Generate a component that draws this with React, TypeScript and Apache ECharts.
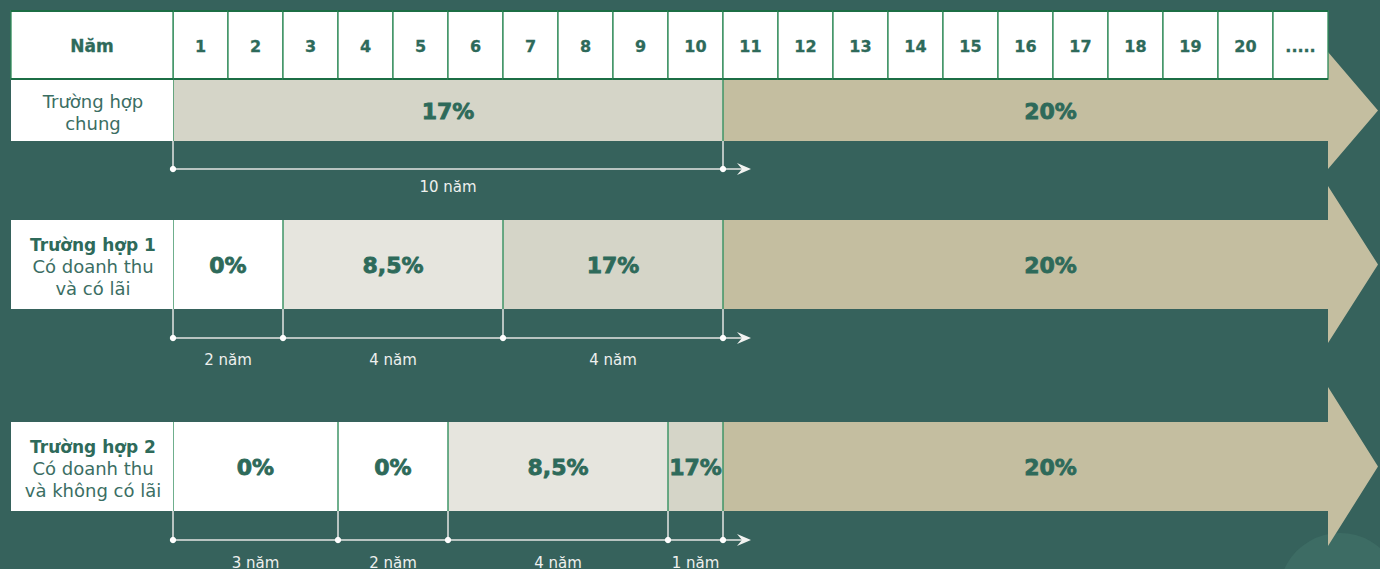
import { useEffect, useRef } from "react";
import * as echarts from "echarts";

// ---------- DATA ----------
const yearLabels = ["1", "2", "3", "4", "5", "6", "7", "8", "9", "10", "11", "12", "13", "14", "15", "16", "17", "18", "19", "20", "....."];
const headerTitle = "Năm";
const caseLabelLines = [
  ["Trường hợp", "chung"],
  ["Trường hợp 1", "Có doanh thu", "và có lãi"],
  ["Trường hợp 2", "Có doanh thu", "và không có lãi"],
];
const caseBoldFirst = [false, true, true];
const generalYears = [10];
const generalRates = ["17%"];
const case1Years = [2, 4, 4];
const case1Rates = ["0%", "8,5%", "17%"];
const case2Years = [3, 2, 4, 1];
const case2Rates = ["0%", "0%", "8,5%", "17%"];
const finalRate = "20%";
const durationUnit = "năm";

// ---------- STYLE / LAYOUT ----------
const W = 1380;
const H = 569;
const BG = "#36625C";
const TEXT = "#2E6A5A";
const LABEL_TEXT = "#3B6E63";
const HEADER_TOP = 11;
const HEADER_BOTTOM = 79;
const LABEL_LEFT = 11;
const HEAD_LEN = 50;
const ROWS = [
  { top: 80, bottom: 141, headExt: 28, lineY: 169, textY: 187 },
  { top: 220, bottom: 309, headExt: 34, lineY: 338, textY: 360 },
  { top: 422, bottom: 511, headExt: 35, lineY: 540, textY: 563 },
];
const rateColor: Record<string, string> = {
  "0%": "#FFFFFF",
  "8,5%": "#E6E5DE",
  "17%": "#D5D5C8",
  "20%": "#C4BEA0",
};
const BOLD_FONT = "DejaVu Sans";
const REG_FONT = "DejaVu Sans";

const cases = [
  { years: generalYears, rates: generalRates },
  { years: case1Years, rates: case1Rates },
  { years: case2Years, rates: case2Rates },
];

type Seg = { row: number; start: number; end: number; rate: string; final: boolean; lastTimed: boolean };

function buildSegments(): Seg[][] {
  return cases.map((c, row) => {
    const segs: Seg[] = [];
    let s = 0;
    c.years.forEach((y, i) => {
      segs.push({ row, start: s, end: s + y, rate: c.rates[i], final: false, lastTimed: i === c.years.length - 1 });
      s += y;
    });
    segs.push({ row, start: s, end: yearLabels.length, rate: finalRate, final: true, lastTimed: false });
    return segs;
  });
}

export default function App() {
  const ref = useRef<HTMLDivElement>(null);
  useEffect(() => {
    if (!ref.current) return;
    const chart = echarts.init(ref.current, undefined, { renderer: "svg" });
    const allSegs = buildSegments();

    const headerSeries = {
      type: "custom",
      z: 5,
      data: yearLabels.map((_, i) => [i, i + 1]),
      renderItem: (params: any, api: any) => {
        const x0 = api.coord([api.value(0), 0])[0];
        const x1 = api.coord([api.value(1), 0])[0];
        const label = yearLabels[params.dataIndex];
        return {
          type: "group",
          children: [
            { type: "rect", shape: { x: x0, y: HEADER_TOP, width: x1 - x0, height: HEADER_BOTTOM - HEADER_TOP }, style: { fill: "#FFFFFF", stroke: "#2E8A58", lineWidth: 1.3 } },
            { type: "line", shape: { x1: x0, y1: HEADER_TOP, x2: x1, y2: HEADER_TOP }, style: { stroke: "#1C6E45", lineWidth: 2 } },
            { type: "line", shape: { x1: x0, y1: HEADER_BOTTOM, x2: x1, y2: HEADER_BOTTOM }, style: { stroke: "#1C6E45", lineWidth: 2.2 } },
            { type: "text", style: { text: label, x: (x0 + x1) / 2, y: (HEADER_TOP + HEADER_BOTTOM) / 2 + 1, align: "center", verticalAlign: "middle", fill: TEXT, stroke: TEXT, lineWidth: 0.3, fontFamily: BOLD_FONT, fontWeight: "bold", fontSize: 16 } },
          ],
        };
      },
    };

    const labelSeries = {
      type: "custom",
      z: 5,
      data: [[0], [0], [0], [0]],
      renderItem: (params: any, api: any) => {
        const x1 = api.coord([api.value(0), 0])[0];
        const idx = params.dataIndex;
        const cx = (LABEL_LEFT + x1) / 2;
        if (idx === 0) {
          return {
            type: "group",
            children: [
              { type: "rect", shape: { x: LABEL_LEFT, y: HEADER_TOP, width: x1 - LABEL_LEFT, height: HEADER_BOTTOM - HEADER_TOP }, style: { fill: "#FFFFFF", stroke: "#2E8A58", lineWidth: 1.3 } },
              { type: "line", shape: { x1: LABEL_LEFT, y1: HEADER_TOP, x2: x1, y2: HEADER_TOP }, style: { stroke: "#1C6E45", lineWidth: 2 } },
              { type: "line", shape: { x1: LABEL_LEFT, y1: HEADER_BOTTOM, x2: x1, y2: HEADER_BOTTOM }, style: { stroke: "#1C6E45", lineWidth: 2.2 } },
              { type: "text", style: { text: headerTitle, x: cx, y: (HEADER_TOP + HEADER_BOTTOM) / 2 + 1, align: "center", verticalAlign: "middle", fill: TEXT, stroke: TEXT, lineWidth: 0.3, fontFamily: BOLD_FONT, fontWeight: "bold", fontSize: 17 } },
            ],
          };
        }
        const r = ROWS[idx - 1];
        const lines = caseLabelLines[idx - 1];
        const bold = caseBoldFirst[idx - 1];
        const cy = (r.top + r.bottom) / 2;
        const children: any[] = [
          { type: "rect", shape: { x: LABEL_LEFT, y: r.top, width: x1 - LABEL_LEFT, height: r.bottom - r.top }, style: { fill: "#FFFFFF" } },
        ];
        lines.forEach((t, i) => {
          const isBold = bold && i === 0;
          children.push({
            type: "text",
            style: {
              text: t, x: cx + 1, y: cy + 2 + (i - (lines.length - 1) / 2) * 22,
              align: "center", verticalAlign: "middle",
              fill: isBold ? TEXT : LABEL_TEXT,
              fontFamily: isBold ? BOLD_FONT : REG_FONT,
              fontWeight: isBold ? "bold" : "normal",
              fontSize: isBold ? 17 : 18,
            },
          });
        });
        return { type: "group", children };
      },
    };

    const segSeries = allSegs.map((segs) => ({
      type: "custom",
      z: 4,
      data: segs.map((s) => [s.start, s.end]),
      renderItem: (params: any, api: any) => {
        const s = segs[params.dataIndex];
        const r = ROWS[s.row];
        const x0 = api.coord([api.value(0), 0])[0];
        const x1 = api.coord([api.value(1), 0])[0];
        const cy = (r.top + r.bottom) / 2;
        const fill = rateColor[s.rate];
        const children: any[] = [];
        let tx = (x0 + x1) / 2;
        if (s.final) {
          children.push({
            type: "polygon",
            shape: { points: [[x0, r.top], [x1, r.top], [x1, r.top - r.headExt], [x1 + HEAD_LEN, cy], [x1, r.bottom + r.headExt], [x1, r.bottom], [x0, r.bottom]] },
            style: { fill },
          });
          tx = (x0 + x1 + HEAD_LEN) / 2;
        } else {
          children.push({ type: "rect", shape: { x: x0, y: r.top, width: x1 - x0, height: r.bottom - r.top }, style: { fill } });
        }
        children.push({ type: "line", shape: { x1: x0, y1: r.top, x2: x0, y2: r.bottom }, style: { stroke: "#3F9467", lineWidth: 1.5 } });
        children.push({
          type: "text",
          style: { text: s.rate, x: tx, y: cy + 1, align: "center", verticalAlign: "middle", fill: TEXT, stroke: TEXT, lineWidth: 0.8, fontFamily: BOLD_FONT, fontWeight: "bold", fontSize: 22 },
        });
        return { type: "group", children };
      },
    }));

    const timelineSeries = allSegs.map((segsAll) => {
      const segs = segsAll.filter((s) => !s.final);
      return {
        type: "custom",
        z: 4,
        data: segs.map((s) => [s.start, s.end]),
        renderItem: (params: any, api: any) => {
          const s = segs[params.dataIndex];
          const r = ROWS[s.row];
          const x0 = api.coord([api.value(0), 0])[0];
          const x1 = api.coord([api.value(1), 0])[0];
          const ly = r.lineY;
          const lineStyle = { stroke: "#E4E6E3", lineWidth: 1.5 };
          const children: any[] = [
            { type: "line", shape: { x1: x0, y1: r.bottom, x2: x0, y2: ly }, style: lineStyle },
            { type: "line", shape: { x1: x0, y1: ly, x2: x1, y2: ly }, style: lineStyle },
          ];
          if (s.lastTimed) {
            const tip = x1 + 28;
            children.push({ type: "line", shape: { x1: x1, y1: r.bottom, x2: x1, y2: ly }, style: lineStyle });
            children.push({ type: "line", shape: { x1: x1, y1: ly, x2: tip - 8, y2: ly }, style: lineStyle });
            children.push({ type: "polygon", shape: { points: [[tip, ly], [tip - 14, ly - 6], [tip - 9, ly], [tip - 14, ly + 6]] }, style: { fill: "#F2F3F1" } });
            children.push({ type: "circle", shape: { cx: x1, cy: ly, r: 3.2 }, style: { fill: "#FFFFFF" } });
          }
          children.push({ type: "circle", shape: { cx: x0, cy: ly, r: 3.2 }, style: { fill: "#FFFFFF" } });
          children.push({
            type: "text",
            style: { text: `${s.end - s.start} ${durationUnit}`, x: (x0 + x1) / 2, y: r.textY, align: "center", verticalAlign: "middle", fill: "#EEF0EE", fontFamily: REG_FONT, fontSize: 15 },
          });
          return { type: "group", children };
        },
      };
    });

    chart.setOption({
      animation: false,
      backgroundColor: BG,
      grid: { left: 173, right: W - 1273, top: 0, bottom: 0 },
      xAxis: { type: "value", min: 0, max: 20, show: false },
      yAxis: { type: "value", min: 0, max: H, inverse: true, show: false },
      graphic: [
        { type: "circle", z: -1, shape: { cx: 1340, cy: 594, r: 61 }, style: { fill: "#3D6C64" } },
      ],
      series: [headerSeries, labelSeries, ...segSeries, ...timelineSeries],
    });
    return () => chart.dispose();
  }, []);
  return <div ref={ref} style={{ position: "absolute", left: 0, top: 0, width: W, height: H }} />;
}
